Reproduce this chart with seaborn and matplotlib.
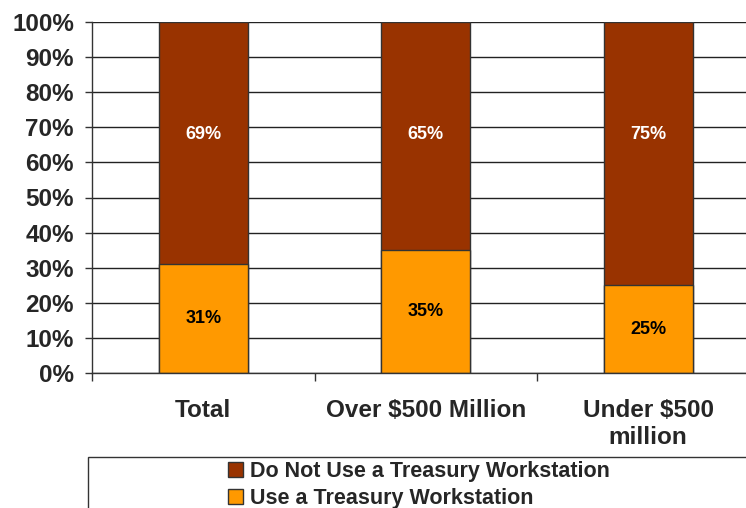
import matplotlib
matplotlib.use("Agg")
import matplotlib.pyplot as plt
from matplotlib.patches import Rectangle, Patch
from matplotlib.ticker import FixedLocator
import seaborn as sns
import pandas as pd

categories = ["Total", "Over $500 Million", "Under $500\nmillion"]
use_pct = [31, 35, 25]
not_use_pct = [69, 65, 75]
series_names = ["Do Not Use a Treasury Workstation", "Use a Treasury Workstation"]
y_ticks = [0, 10, 20, 30, 40, 50, 60, 70, 80, 90, 100]

brown = "#993300"
orange = "#FF9900"

sns.set_theme(style="white")
plt.rcParams["font.family"] = ["Liberation Sans", "DejaVu Sans"]
plt.rcParams["font.weight"] = "bold"

df = pd.DataFrame({
    "category": categories,
    "use": use_pct,
    "notuse": not_use_pct,
})
df["total"] = df["use"] + df["notuse"]

fig = plt.figure(figsize=(7.46, 5.08), dpi=100)
ax = fig.add_axes([92 / 746, 1 - 373 / 508, (759.5 - 92) / 746, 351 / 508])

ax.set_axisbelow(True)
ax.yaxis.grid(True, color="#222222", linewidth=1.0)
ax.xaxis.grid(False)

sns.barplot(data=df, x="category", y="total", color=brown, width=0.4,
            edgecolor="#333333", linewidth=1.0, saturation=1, ax=ax)
sns.barplot(data=df, x="category", y="use", color=orange, width=0.4,
            edgecolor="#333333", linewidth=1.0, saturation=1, ax=ax)

ax.set_xlim(-0.5, 2.5)
ax.set_ylim(0, 100)
ax.set_yticks(y_ticks)
ax.set_yticklabels([f"{t}%" for t in y_ticks], fontsize=17.5, fontweight="bold")
ax.set_xlabel("")
ax.set_ylabel("")
ax.tick_params(axis="x", which="major", length=0, pad=19, labelsize=17.5)
for lbl in ax.get_xticklabels():
    lbl.set_fontweight("bold")
ax.xaxis.set_minor_locator(FixedLocator([-0.5, 0.5, 1.5, 2.5]))
ax.tick_params(axis="x", which="minor", length=6, width=1, color="#333333", bottom=True)
ax.tick_params(axis="y", which="major", length=5, width=1, color="#333333", left=True, pad=8)

for s in ["top", "right"]:
    ax.spines[s].set_visible(False)
ax.spines["left"].set_color("#333333")
ax.spines["bottom"].set_color("#333333")
ax.spines["left"].set_linewidth(1)
ax.spines["bottom"].set_linewidth(1)

for i, (u, n) in enumerate(zip(use_pct, not_use_pct)):
    ax.text(i, u / 2, f"{u}%", ha="center", va="center", fontsize=13,
            fontweight="bold", color="black")
    ax.text(i, 68, f"{n}%", ha="center", va="center", fontsize=13,
            fontweight="bold", color="white")

fig.patches.append(Rectangle((88 / 746, -0.2), 0.95, 1.2 - 457 / 508,
                             transform=fig.transFigure, facecolor="white",
                             edgecolor="#333333", linewidth=1, zorder=0))
handles = [Patch(facecolor=brown, edgecolor="#333333", linewidth=1),
           Patch(facecolor=orange, edgecolor="#333333", linewidth=1)]
fig.legend(handles, series_names, loc="upper center",
           bbox_to_anchor=(419 / 746, 1 - 461 / 508), frameon=False,
           prop={"size": 15.5, "weight": "bold"}, handlelength=0.7,
           handleheight=0.7, handletextpad=0.3, labelspacing=0.3,
           borderpad=0, borderaxespad=0)

fig.savefig("out.png", dpi=100)
